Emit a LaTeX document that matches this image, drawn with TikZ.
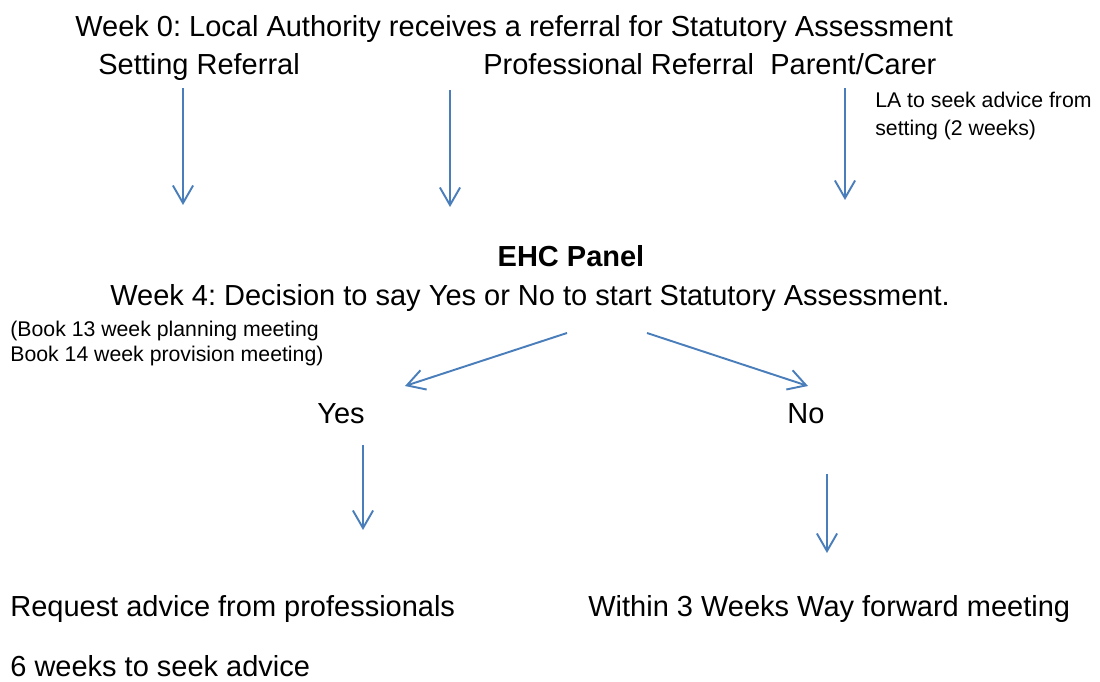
\documentclass[tikz,border=0pt]{standalone}
\usepackage{fontspec}
\setmainfont{Liberation Sans}
\usepackage{tikz}
\usetikzlibrary{arrows.meta}
\definecolor{flowblue}{HTML}{4A7EBB}
\frenchspacing

\begin{document}
\begin{tikzpicture}[x=0.02cm, y=-0.02cm,
    big/.style={anchor=base west, inner sep=0pt, font=\fontsize{16.5}{20}\selectfont},
    small/.style={anchor=base west, inner sep=0pt, font=\fontsize{12.1}{14}\selectfont},
    flow/.style={draw=flowblue, line width=1.1pt,
      -{Straight Barb[length=10pt, width=11.5pt]}}]
  \useasboundingbox (0,0) rectangle (1100,682);

  % referral
  \node[big] (week0) at (75,36.5) {Week 0: Local Authority receives a referral for Statutory Assessment};
  \node[big] (setting) at (98,74.5) {Setting Referral};
  \node[big] (prof) at (483,74.5) {Professional Referral};
  \node[big] (parent) at (770,74.5) {Parent/Carer};
  \node[small] (seek1) at (875,107.5) {LA to seek advice from};
  \node[small] (seek2) at (875,135.5) {setting (2 weeks)};

  \foreach \n/\x/\a/\b in {setting/183/88/205, prof/450/90/207, parent/845/88/200} {
    \coordinate (\n top) at (\x,\a);
    \coordinate (\n end) at (\x,\b);
    \draw[flow] (\n top) -- (\n end);
  }

  % panel
  \node[big, anchor=base, font=\fontsize{16.5}{20}\selectfont\bfseries] (panel) at (571,266.5) {EHC Panel};
  \node[big] (week4) at (110,305.5) {Week 4: Decision to say Yes or No to start Statutory Assessment.};
  \node[small] (book1) at (10,337) {(Book 13 week planning meeting};
  \node[small] (book2) at (10,362) {Book 14 week provision meeting)};

  \coordinate (splitL) at (567,333);
  \coordinate (splitR) at (647,333);
  \coordinate (yestip) at (405,386);
  \coordinate (notip) at (808,386);
  \draw[flow] (splitL) -- (yestip);
  \draw[flow] (splitR) -- (notip);

  \node[big, anchor=base] (yes) at (341,423.5) {Yes};
  \node[big, anchor=base] (no) at (806,423.5) {No};

  \coordinate (yestop) at (363,445);
  \coordinate (yesend) at (363,530);
  \coordinate (notop) at (827,474);
  \coordinate (noend) at (827,553);
  \draw[flow] (yestop) -- (yesend);
  \draw[flow] (notop) -- (noend);

  % outcome
  \node[big] (request) at (10,617) {Request advice from professionals};
  \node[big] (within) at (588,617) {Within 3 Weeks Way forward meeting};
  \node[big] (sixweeks) at (10,676.5) {6 weeks to seek advice};
\end{tikzpicture}
\end{document}
